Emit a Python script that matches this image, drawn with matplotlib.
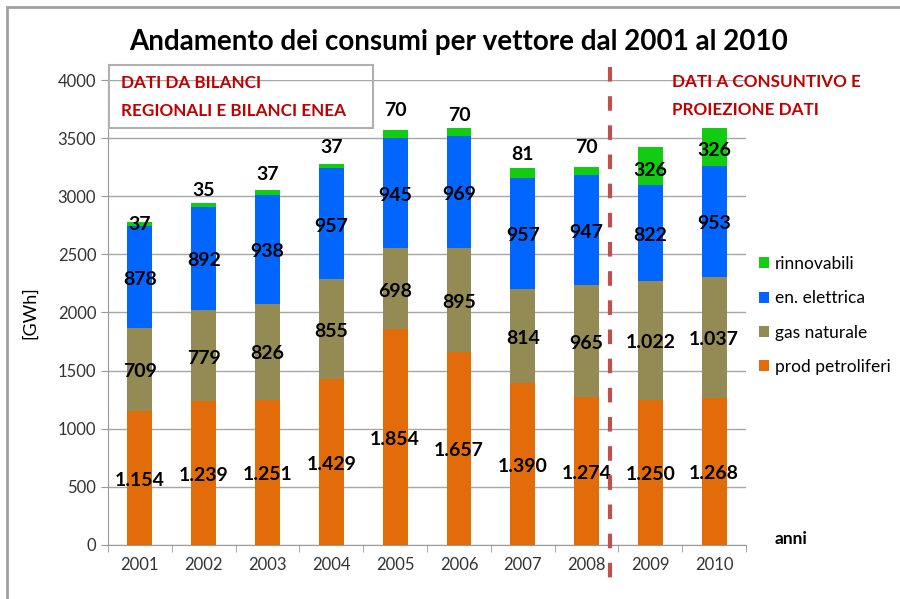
import numpy as np
import matplotlib
matplotlib.use("Agg")
from matplotlib import pyplot as plt
from matplotlib.patches import Rectangle

plt.rcParams["font.family"] = ["Lato", "DejaVu Sans"]

# =====> dati <=====
anni = ["2001", "2002", "2003", "2004", "2005", "2006", "2007", "2008", "2009", "2010"]
prod_petroliferi = [1154, 1239, 1251, 1429, 1854, 1657, 1390, 1274, 1250, 1268]
gas_naturale = [709, 779, 826, 855, 698, 895, 814, 965, 1022, 1037]
en_elettrica = [878, 892, 938, 957, 945, 969, 957, 947, 822, 953]
rinnovabili = [37, 35, 37, 37, 70, 70, 81, 70, 326, 326]

# etichette rinnovabili spostate a mano nel grafico originale
rinn_label_y = [2755, 3050, 3190, 3420, 3735, 3695, 3360, 3420, 3225, 3395]

colori = {
    "prod petroliferi": "#e36c0a",
    "gas naturale": "#948a54",
    "en. elettrica": "#0066ff",
    "rinnovabili": "#11cc11",
}


def fmt(v):
    # separatore migliaia all'italiana
    return f"{v:,}".replace(",", ".")


fig = plt.figure(figsize=(9, 5.99), dpi=100)
ax = fig.add_axes([0.12, 0.0902, 0.709, 0.7762])

x = np.arange(len(anni))
w = 0.39
serie = [
    ("prod petroliferi", prod_petroliferi),
    ("gas naturale", gas_naturale),
    ("en. elettrica", en_elettrica),
    ("rinnovabili", rinnovabili),
]
bottom = np.zeros(len(anni))
handles = {}
for nome, vals in serie:
    vals = np.array(vals)
    b = ax.bar(x, vals, w, bottom=bottom, color=colori[nome], label=nome, zorder=3)
    handles[nome] = b
    if nome != "rinnovabili":
        for xi, bo, v in zip(x, bottom, vals):
            ax.text(xi, bo + v / 2 - 20, fmt(v), ha="center", va="center",
                    fontsize=14, fontweight="bold", zorder=5)
    else:
        for xi, yl, v in zip(x, rinn_label_y, vals):
            ax.text(xi, yl, fmt(v), ha="center", va="center",
                    fontsize=14, fontweight="bold", zorder=5)
    bottom = bottom + vals

ax.set_xlim(-0.5, len(anni) - 0.5)
ax.set_ylim(0, 4000)
ax.set_yticks(np.arange(0, 4001, 500))
ax.set_xticks(x)
ax.set_xticklabels(anni)
ax.set_xticks(np.arange(-0.5, len(anni), 1), minor=True)
ax.tick_params(axis="x", which="major", length=0, pad=9, labelsize=12, colors="#333333")
ax.tick_params(axis="x", which="minor", length=5, color="#999999")
ax.tick_params(axis="y", length=5, color="#999999", labelsize=12, labelcolor="#333333")
ax.grid(axis="y", color="#a6a6a6", lw=1, zorder=0)
for s in ["top", "right"]:
    ax.spines[s].set_visible(False)
for s in ["left", "bottom"]:
    ax.spines[s].set_color("#999999")

ax.set_ylabel("[GWh]", fontsize=13, labelpad=14)
ax.text(1.045, -0.005, "anni", transform=ax.transAxes, fontsize=12.5,
        fontweight="bold", va="bottom")

# linea di separazione
ax.plot([7.36, 7.36], [4110, -390], color="#c0504d", lw=3,
        dashes=(3.5, 3.5), clip_on=False, zorder=6)

# legenda
ordine = ["rinnovabili", "en. elettrica", "gas naturale", "prod petroliferi"]
ax.legend([handles[k] for k in ordine], ordine, loc="upper left",
          bbox_to_anchor=(0.995, 0.655), frameon=False, fontsize=12.5,
          handlelength=0.6, handleheight=0.6, handletextpad=0.35, labelspacing=1.05)

# titolo
fig.text(0.509, 0.93, "Andamento dei consumi per vettore dal 2001 al 2010",
         ha="center", va="center", fontsize=20, fontweight="bold")

# riquadri di testo
fig.add_artist(Rectangle((109 / 900, 1 - 128 / 599), 264 / 900, 63 / 599,
                         transform=fig.transFigure, fill=False,
                         edgecolor="#b0b0b0", lw=1.5))
fig.text(121 / 900, 1 - 97 / 599, "DATI DA BILANCI\nREGIONALI E BILANCI ENEA",
         color="#c00000", fontsize=12.3, fontweight="bold", va="center", ha="left",
         linespacing=1.9)
fig.text(672 / 900, 1 - 96 / 599, "DATI A CONSUNTIVO E\nPROIEZIONE DATI",
         color="#c00000", fontsize=12.3, fontweight="bold", va="center", ha="left",
         linespacing=1.9)

# cornice
fig.add_artist(Rectangle((7 / 900, -0.05), 1.0, 1 - 7 / 599 + 0.05,
                         transform=fig.transFigure, fill=False,
                         edgecolor="#a0a0a0", lw=2))

fig.savefig("out.png", dpi=100)
